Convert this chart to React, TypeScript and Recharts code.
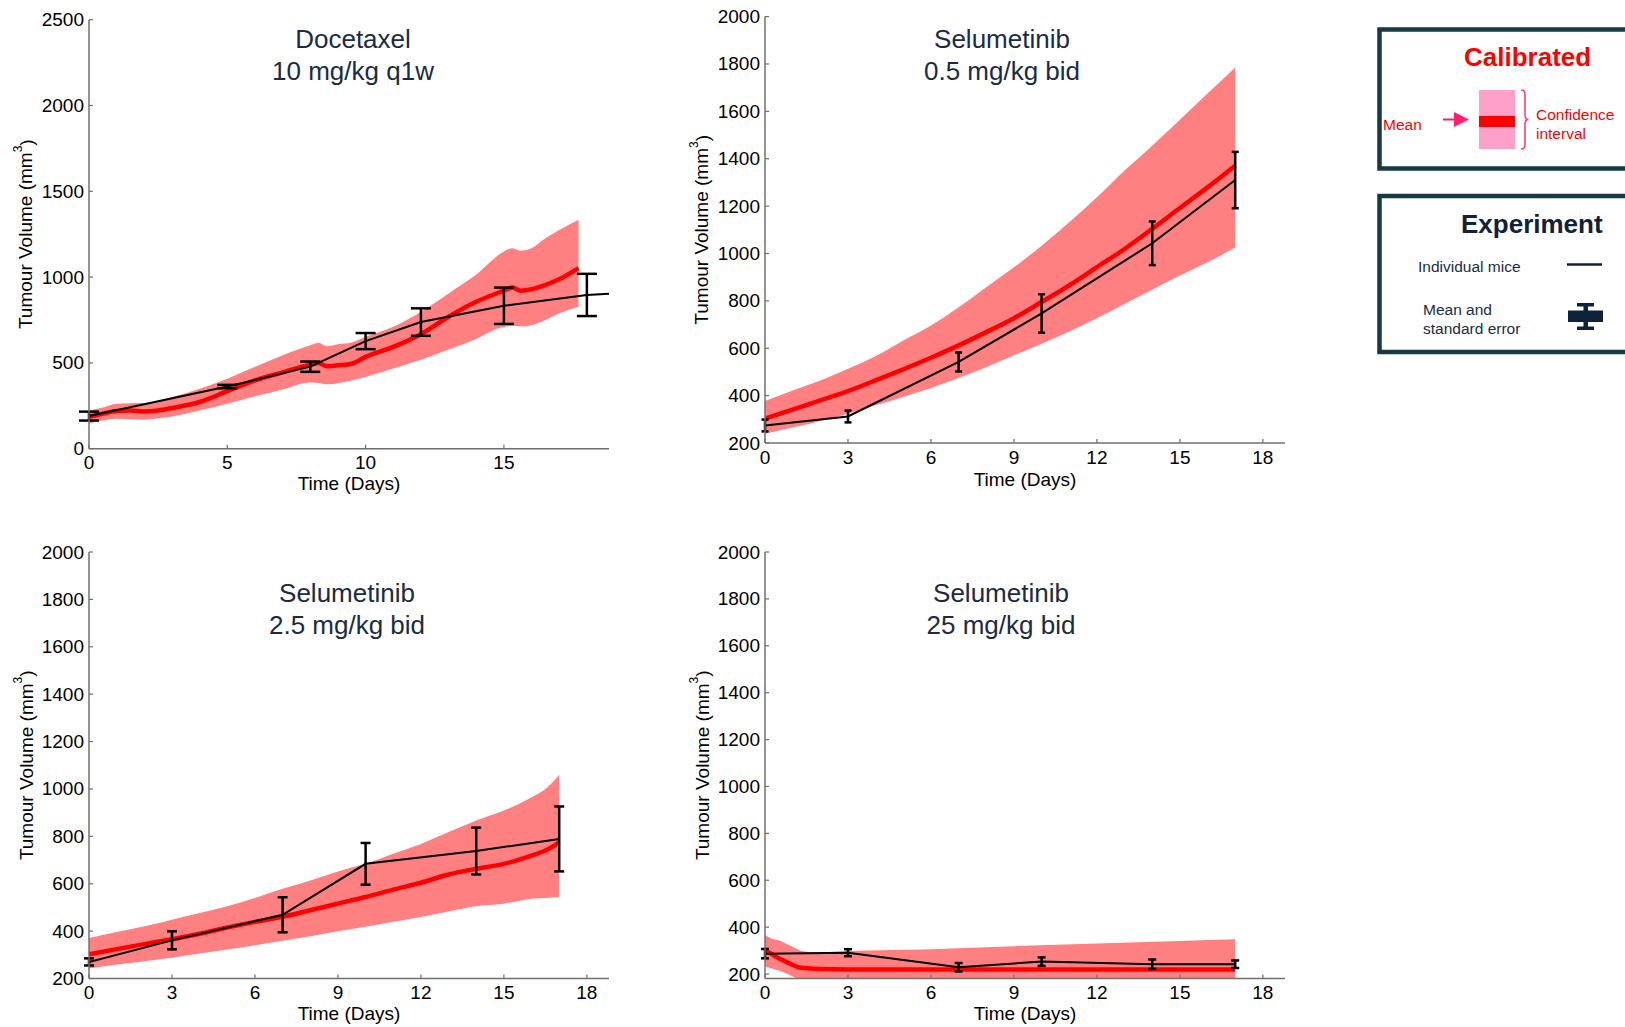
import React from "react";
import { ComposedChart, Area, Line, XAxis, YAxis, ErrorBar, Label } from "recharts";

const FONT = '"Liberation Sans", Arial, Helvetica, sans-serif';
const NAVY = "#1a2b45";
const AXIS = "#707070";
const BAND = "#ff8080";
const MEAN_RED = "#ff0000";

// ---- Docetaxel 10 mg/kg q1w ----
const docModelDays = [0, 0.5, 1, 1.5, 2, 2.5, 3, 4, 5, 6, 7, 8, 8.3, 8.6, 9, 9.5, 10, 11, 12, 13, 14, 15, 15.3, 15.6, 16, 16.5, 17, 17.7];
const docMean = [186, 204, 220, 223, 217, 223, 237, 272, 335, 398, 445, 490, 500, 480, 486, 495, 535, 593, 667, 769, 856, 921, 940, 921, 929, 954, 987, 1052];
const docLow = [149, 165, 175, 172, 169, 177, 188, 223, 262, 305, 345, 386, 383, 375, 382, 398, 418, 467, 518, 578, 640, 710, 716, 712, 720, 750, 788, 827];
const docHigh = [223, 240, 262, 265, 266, 280, 301, 350, 408, 477, 545, 603, 617, 597, 609, 619, 652, 710, 798, 905, 1015, 1149, 1168, 1154, 1168, 1226, 1275, 1334];
const docExpDays = [0, 5, 8, 10, 12, 15, 18, 18.8];
const docExpMean = [190, 362, 478, 627, 738, 833, 896, 903];
const docExpErr = [26, 10, 30, 47, 80, 106, 123, 0];
const docTicksY = [0, 500, 1000, 1500, 2000, 2500];
const docTicksX = [0, 5, 10, 15];

// ---- Selumetinib 0.5 mg/kg bid ----
const sel05ModelDays = [0, 1, 2, 3, 4, 5, 6, 7, 8, 9, 10, 11, 12, 13, 14, 15, 16, 17];
const sel05Mean = [303, 341, 380, 419, 464, 511, 560, 612, 668, 727, 795, 865, 942, 1019, 1104, 1192, 1279, 1371];
const sel05Low = [239, 265, 293, 324, 359, 394, 432, 474, 520, 570, 619, 671, 727, 787, 847, 907, 963, 1024];
const sel05High = [377, 422, 464, 513, 567, 633, 696, 773, 858, 942, 1033, 1132, 1237, 1350, 1455, 1565, 1675, 1785];
const sel05ExpDays = [0, 3, 7, 10, 14, 17];
const sel05ExpMean = [274, 312, 542, 747, 1043, 1310];
const sel05ExpErr = [25, 25, 40, 81, 92, 119];

// ---- Selumetinib 2.5 mg/kg bid ----
const sel25ModelDays = [0, 1, 2, 3, 4, 5, 6, 7, 8, 9, 10, 11, 12, 13, 14, 15, 16, 16.5, 17];
const sel25Mean = [302, 324, 345, 366, 389, 415, 439, 460, 488, 516, 544, 575, 604, 639, 663, 684, 719, 740, 775];
const sel25Low = [242, 259, 273, 288, 305, 322, 340, 359, 378, 399, 418, 439, 460, 483, 505, 516, 537, 540, 544];
const sel25High = [371, 396, 420, 448, 476, 505, 540, 579, 614, 652, 684, 726, 768, 818, 867, 909, 965, 1000, 1060];
const sel25ExpDays = [0, 3, 7, 10, 14, 17];
const sel25ExpMean = [270, 361, 469, 684, 738, 789];
const sel25ExpErr = [15, 38, 74, 88, 99, 137];

// ---- Selumetinib 25 mg/kg bid ----
const sel250ModelDays = [0, 0.25, 0.5, 0.75, 1, 1.25, 1.5, 2, 3, 6, 9, 12, 15, 17];
const sel250Mean = [302, 285, 267, 253, 239, 228, 225, 221, 219, 219, 219, 219, 219, 219];
const sel250Low = [232, 224, 215, 203, 190, 175, 170, 170, 170, 170, 170, 170, 170, 170];
const sel250High = [365, 351, 344, 330, 316, 302, 295, 292, 298, 306, 319, 330, 341, 348];
const sel250ExpDays = [0, 3, 7, 10, 14, 17];
const sel250ExpMean = [287, 291, 229, 253, 242, 242];
const sel250ExpErr = [20, 15, 18, 18, 20, 16];

const selTicksY = [200, 400, 600, 800, 1000, 1200, 1400, 1600, 1800, 2000];
const selTicksX = [0, 3, 6, 9, 12, 15, 18];

const panels = [
  {
    id: "doc",
    title: ["Docetaxel", "10 mg/kg q1w"],
    titleX: 353, titleTop: 23,
    box: { left: 0, top: 0, width: 640, height: 510 },
    plot: { left: 89, top: 19.7, right: 609, bottom: 448.7 },
    yDomain: [0, 2500], yTicks: docTicksY, xTicks: docTicksX,
    modelDays: docModelDays, mean: docMean, low: docLow, high: docHigh,
    expDays: docExpDays, expMean: docExpMean, expErr: docExpErr,
    cap: 10, xTitleGap: 34.5,
  },
  {
    id: "sel05",
    title: ["Selumetinib", "0.5 mg/kg bid"],
    titleX: 1002, titleTop: 23,
    box: { left: 660, top: 0, width: 640, height: 510 },
    plot: { left: 765, top: 16.6, right: 1285, bottom: 443 },
    yDomain: [200, 2000], yTicks: selTicksY, xTicks: selTicksX,
    modelDays: sel05ModelDays, mean: sel05Mean, low: sel05Low, high: sel05High,
    expDays: sel05ExpDays, expMean: sel05ExpMean, expErr: sel05ExpErr,
    cap: 3.5, xTitleGap: 36,
  },
  {
    id: "sel25",
    title: ["Selumetinib", "2.5 mg/kg bid"],
    titleX: 347, titleTop: 577,
    box: { left: 0, top: 520, width: 640, height: 507 },
    plot: { left: 89, top: 552, right: 609, bottom: 978.5 },
    yDomain: [200, 2000], yTicks: selTicksY, xTicks: selTicksX,
    modelDays: sel25ModelDays, mean: sel25Mean, low: sel25Low, high: sel25High,
    expDays: sel25ExpDays, expMean: sel25ExpMean, expErr: sel25ExpErr,
    cap: 5, xTitleGap: 35,
  },
  {
    id: "sel250",
    title: ["Selumetinib", "25 mg/kg bid"],
    titleX: 1001, titleTop: 577,
    box: { left: 660, top: 520, width: 640, height: 507 },
    plot: { left: 765, top: 552, right: 1285, bottom: 978.5 },
    yDomain: [181, 2000], yTicks: selTicksY, xTicks: selTicksX,
    modelDays: sel250ModelDays, mean: sel250Mean, low: sel250Low, high: sel250High,
    expDays: sel250ExpDays, expMean: sel250ExpMean, expErr: sel250ExpErr,
    cap: 4, xTitleGap: 35,
  },
];

const XTick = (props: any) => {
  const { x, y, payload } = props;
  return (
    <g>
      <line x1={x} x2={x} y1={y} y2={y - 4} stroke={AXIS} strokeWidth={1.2} />
      <text x={x} y={y + 14} textAnchor="middle" dominantBaseline="central" fontFamily={FONT} fontSize={19} fill="#000">
        {payload.value}
      </text>
    </g>
  );
};

const YTick = (props: any) => {
  const { x, y, payload } = props;
  return (
    <g>
      <line x1={x} x2={x + 4} y1={y} y2={y} stroke={AXIS} strokeWidth={1.2} />
      <text x={x - 5} y={y} textAnchor="end" dominantBaseline="central" fontFamily={FONT} fontSize={19} fill="#000">
        {payload.value}
      </text>
    </g>
  );
};

const YTitle = (props: any) => {
  const vb = props.viewBox || { x: 0, y: 0, width: 0, height: 0 };
  const cx = vb.x + vb.width - 63;
  const cy = vb.y + vb.height / 2;
  return (
    <text x={cx} y={cy} transform={`rotate(-90 ${cx} ${cy})`} textAnchor="middle" dominantBaseline="central" fontFamily={FONT} fontSize={19} fill="#000">
      Tumour Volume (mm<tspan dy={-8} fontSize={12}>3</tspan><tspan dy={8}>)</tspan>
    </text>
  );
};

const makeXTitle = (gap: number) => (props: any) => {
  const vb = props.viewBox || { x: 0, y: 0, width: 0, height: 0 };
  return (
    <text x={vb.x + vb.width / 2} y={vb.y + gap} textAnchor="middle" dominantBaseline="central" fontFamily={FONT} fontSize={19} fill="#000">
      Time (Days)
    </text>
  );
};

function TumourPanel({ spec }: { spec: any }) {
  const { box, plot } = spec;
  const model = spec.modelDays.map((d: number, i: number) => ({
    day: d,
    mean: spec.mean[i],
    band: [spec.low[i], spec.high[i]],
  }));
  const exp = spec.expDays.map((d: number, i: number) => ({
    day: d,
    volume: spec.expMean[i],
    err: spec.expErr[i],
  }));
  const xAxisHeight = 40;
  const margin = {
    top: plot.top - box.top,
    right: box.left + box.width - plot.right,
    left: 0,
    bottom: box.top + box.height - plot.bottom - xAxisHeight,
  };

  return (
    <div style={{ position: "absolute", left: box.left, top: box.top, width: box.width, height: box.height }}>
      <ComposedChart width={box.width} height={box.height} margin={margin}>
        <XAxis
          type="number"
          dataKey="day"
          domain={[0, 18.8]}
          ticks={spec.xTicks}
          interval={0}
          allowDataOverflow
          height={xAxisHeight}
          tickLine={false}
          tickSize={0}
          tickMargin={0}
          tick={<XTick />}
          axisLine={{ stroke: AXIS, strokeWidth: 1.5 }}
        >
          <Label content={makeXTitle(spec.xTitleGap)} />
        </XAxis>
        <YAxis
          type="number"
          domain={spec.yDomain}
          ticks={spec.yTicks}
          interval={0}
          allowDataOverflow
          width={plot.left - box.left}
          tickLine={false}
          tickSize={0}
          tickMargin={0}
          tick={<YTick />}
          axisLine={{ stroke: AXIS, strokeWidth: 1.5 }}
        >
          <Label content={YTitle} />
        </YAxis>
        <Area
          data={model}
          dataKey="band"
          type="monotone"
          stroke="none"
          fill={BAND}
          fillOpacity={1}
          dot={false}
          activeDot={false}
          isAnimationActive={false}
        />
        <Line
          data={model}
          dataKey="mean"
          type="monotone"
          stroke={MEAN_RED}
          strokeWidth={4.5}
          dot={false}
          activeDot={false}
          isAnimationActive={false}
        />
        <Line
          data={exp}
          dataKey="volume"
          type="linear"
          stroke="#000"
          strokeWidth={2}
          dot={false}
          activeDot={false}
          isAnimationActive={false}
        >
          <ErrorBar dataKey="err" width={spec.cap} stroke="#000" strokeWidth={2.5} direction="y" />
        </Line>
      </ComposedChart>
      <div
        style={{
          position: "absolute",
          left: spec.titleX - box.left - 200,
          top: spec.titleTop - box.top,
          width: 400,
          textAlign: "center",
          fontFamily: FONT,
          fontSize: 26,
          lineHeight: "32px",
          color: NAVY,
        }}
      >
        {spec.title[0]}
        <br />
        {spec.title[1]}
      </div>
    </div>
  );
}

function LegendBoxes() {
  const border = "#163a44";
  const dark = "#0e2239";
  return (
    <svg width={255} height={345} style={{ position: "absolute", left: 1370, top: 20 }}>
      <g transform="translate(-1370,-20)">
        {/* Calibrated box */}
        <rect x={1379.5} y={29.5} width={300} height={139} fill="#fff" stroke={border} strokeWidth={4.5} />
        <text x={1464} y={57} dominantBaseline="central" fontFamily={FONT} fontSize={26} fontWeight="bold" fill="#ff0000">
          Calibrated
        </text>
        <rect x={1479} y={90} width={36} height={59} fill="#ffa0c8" />
        <rect x={1479} y={116} width={36} height={11} fill="#ff0000" />
        <text x={1383} y={124} dominantBaseline="central" fontFamily={FONT} fontSize={15.5} fill="#ff0000">
          Mean
        </text>
        <line x1={1443} x2={1458} y1={119.5} y2={119.5} stroke="#ff1f6e" strokeWidth={2} />
        <path d="M1454,112 L1469,119.5 L1454,127 Z" fill="#ff1f6e" />
        <path
          d="M1521,90 Q1525,90 1525,94 L1525,115 Q1525,119.5 1528.5,119.5 Q1525,119.5 1525,124 L1525,145 Q1525,149 1521,149"
          fill="none"
          stroke="#ff3d7f"
          strokeWidth={1.6}
        />
        <text x={1536} y={114} dominantBaseline="central" fontFamily={FONT} fontSize={15.5} fill="#ff0000">
          Confidence
        </text>
        <text x={1536} y={133} dominantBaseline="central" fontFamily={FONT} fontSize={15.5} fill="#ff0000">
          interval
        </text>

        {/* Experiment box */}
        <rect x={1379.5} y={196} width={300} height={156} fill="#fff" stroke={border} strokeWidth={4.5} />
        <text x={1461} y={224} dominantBaseline="central" fontFamily={FONT} fontSize={26} fontWeight="bold" fill={dark}>
          Experiment
        </text>
        <text x={1418} y={266} dominantBaseline="central" fontFamily={FONT} fontSize={15.5} fill={NAVY}>
          Individual mice
        </text>
        <line x1={1567} x2={1602} y1={264.5} y2={264.5} stroke={dark} strokeWidth={2.5} />
        <text x={1423} y={309} dominantBaseline="central" fontFamily={FONT} fontSize={15.5} fill={NAVY}>
          Mean and
        </text>
        <text x={1423} y={328} dominantBaseline="central" fontFamily={FONT} fontSize={15.5} fill={NAVY}>
          standard error
        </text>
        <rect x={1568} y={310.5} width={35} height={11.5} fill={dark} />
        <rect x={1583.5} y={303.5} width={4.5} height={26.5} fill={dark} />
        <rect x={1577} y={303} width={17} height={3.5} fill={dark} />
        <rect x={1577} y={326.5} width={17} height={3.5} fill={dark} />
      </g>
    </svg>
  );
}

export default function App() {
  return (
    <div
      style={{
        position: "absolute",
        left: 0,
        top: 0,
        width: 1625,
        height: 1027,
        overflow: "hidden",
        background: "#fff",
        fontFamily: FONT,
      }}
    >
      {panels.map((p) => (
        <TumourPanel key={p.id} spec={p} />
      ))}
      <LegendBoxes />
    </div>
  );
}
